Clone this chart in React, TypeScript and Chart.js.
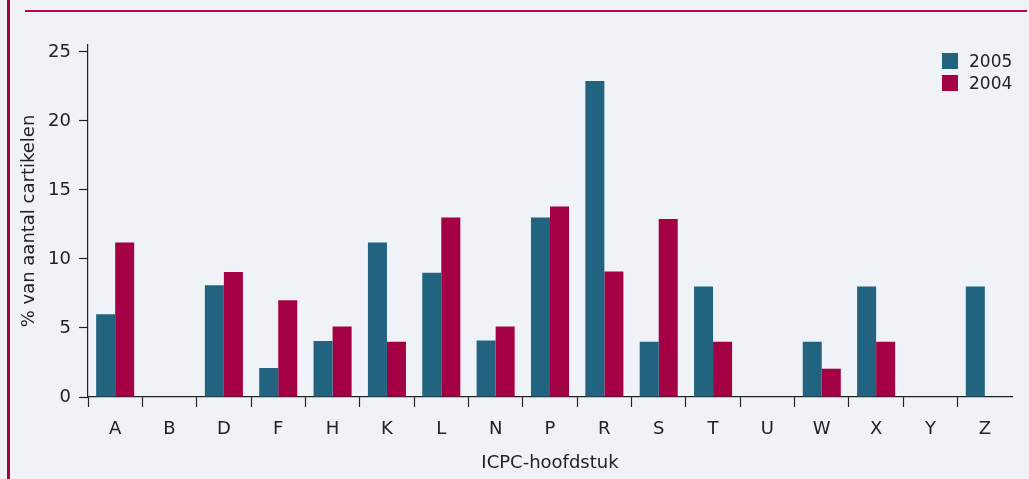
import React, { useEffect, useRef } from "react";
import { Chart, registerables } from "chart.js";

Chart.register(...registerables);

const categories = ["A", "B", "D", "F", "H", "K", "L", "N", "P", "R", "S", "T", "U", "W", "X", "Y", "Z"];
const values2005 = [6.0, null, 8.1, 2.1, 4.05, 11.2, 9.0, 4.1, 13.0, 22.9, 4.0, 8.0, null, 4.0, 8.0, null, 8.0];
const values2004 = [11.2, null, 9.05, 7.0, 5.1, 4.0, 13.0, 5.1, 13.8, 9.1, 12.9, 4.0, null, 2.05, 4.0, null, null];
const seriesLabels = ["2005", "2004"];
const seriesColors = ["#22647f", "#a40044"];
const yTicks = [0, 5, 10, 15, 20, 25];
const yTitle = "% van aantal cartikelen";
const xTitle = "ICPC-hoofdstuk";

const FONT = "'DejaVu Sans', sans-serif";
const FS = 18;
const BG = "#eff3f7";
const AXIS = "#222222";

export default function App() {
  const ref = useRef<HTMLCanvasElement | null>(null);

  useEffect(() => {
    if (!ref.current) return;
    const chart = new Chart(ref.current, {
      type: "bar",
      data: {
        labels: categories,
        datasets: [
          { label: seriesLabels[0], data: values2005 as any, backgroundColor: seriesColors[0] },
          { label: seriesLabels[1], data: values2004 as any, backgroundColor: seriesColors[1] },
        ],
      },
      options: {
        animation: false,
        responsive: false,
        maintainAspectRatio: false,
        layout: { padding: { left: 0, top: 45, right: 17, bottom: 0 } },
        datasets: { bar: { categoryPercentage: 0.7, barPercentage: 1.0 } } as any,
        plugins: { legend: { display: false }, tooltip: { enabled: false } },
        scales: {
          x: {
            offset: true,
            afterFit: (s: any) => { s.height = 82; },
            grid: {
              offset: true,
              drawOnChartArea: false,
              drawTicks: true,
              tickLength: 10,
              tickWidth: 1.2,
              tickColor: (c: any) => (c.type === "scale" ? "rgba(0,0,0,0)" : AXIS),
            },
            border: { display: true, color: AXIS, width: 1.2 },
            ticks: { color: "#222", font: { family: FONT, size: FS }, padding: 12, maxRotation: 0, autoSkip: false },
            title: { display: true, text: xTitle, color: "#222", font: { family: FONT, size: FS }, padding: { top: 0, bottom: 5 } },
          },
          y: {
            min: 0,
            max: 25.5,
            afterFit: (s: any) => { s.width = 88; },
            afterBuildTicks: (s: any) => {
              s.ticks = [...yTicks.map((v) => ({ value: v })), { value: 25.5 }];
            },
            grid: {
              drawOnChartArea: false,
              drawTicks: true,
              tickLength: 9,
              tickWidth: 1.2,
              tickColor: (c: any) => (c.tick && yTicks.includes(c.tick.value) ? AXIS : "rgba(0,0,0,0)"),
            },
            border: { display: true, color: AXIS, width: 1.2 },
            ticks: {
              color: "#222",
              font: { family: FONT, size: FS },
              padding: 8,
              callback: (v: any) => (yTicks.includes(Number(v)) ? String(v) : ""),
            },
            title: { display: true, text: yTitle, color: "#222", font: { family: FONT, size: FS }, padding: { top: 19, bottom: 0 } },
          },
        },
      },
    });
    return () => chart.destroy();
  }, []);

  return (
    <div style={{ position: "fixed", left: 0, top: 0, width: 1029, height: 479, background: BG, overflow: "hidden" }}>
      <div style={{ position: "absolute", left: 7, top: 0, width: 3, height: 479, background: "#a40044" }} />
      <div style={{ position: "absolute", left: 25, top: 10, width: 1002, height: 2, background: "#c0004a" }} />
      <canvas ref={ref} width={1029} height={479} style={{ position: "absolute", left: 0, top: 0, width: 1029, height: 479 }} />
      {seriesLabels.map((lab, i) => (
        <div key={lab} style={{ position: "absolute", left: 942, top: 53 + i * 22, height: 16, display: "flex", alignItems: "center", fontFamily: FONT, fontSize: 17, color: "#222" }}>
          <div style={{ width: 16, height: 16, background: seriesColors[i], marginRight: 11 }} />
          <span>{lab}</span>
        </div>
      ))}
    </div>
  );
}
